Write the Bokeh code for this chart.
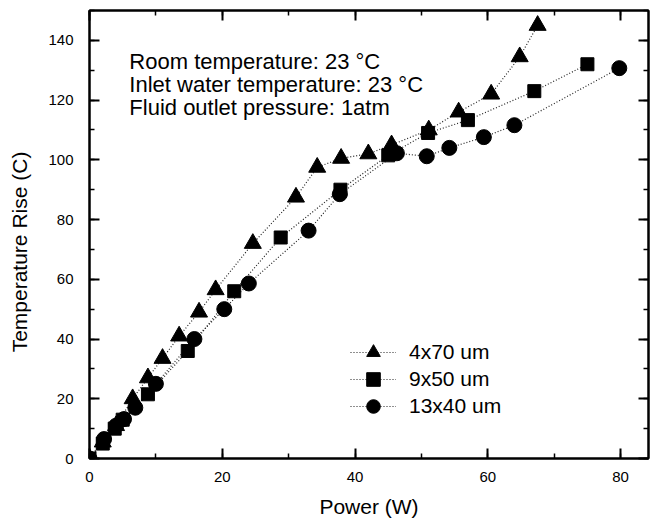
from bokeh.plotting import figure
from bokeh.models import (Range1d, SingleIntervalTicker, LinearAxis, Legend, LegendItem,
                          Label, CustomJSTickFormatter)
from bokeh.embed import file_html
from bokeh.resources import INLINE

# ---- data ----
tri_x = [0, 2, 4, 6.5, 8.8, 11, 13.5, 16.5, 19, 24.6, 31.1, 34.3, 37.9, 42, 45.5, 51.1, 55.6, 60.5, 64.8, 67.5]
tri_y = [0, 5.5, 11, 20, 27, 33.5, 41, 49, 56.5, 72, 87.5, 97.5, 100.5, 102, 105, 110, 116, 122, 134.5, 145]

sq_x = [0, 2, 3.8, 5, 8.8, 14.8, 21.8, 28.8, 37.8, 45, 51, 57, 67, 75]
sq_y = [0, 5, 10, 13, 21.5, 36, 56, 74, 90, 101.5, 109, 113.3, 123, 132]

ci_x = [0, 2.2, 4, 5.2, 6.9, 10, 15.8, 20.3, 24, 33, 37.7, 46.3, 50.8, 54.2, 59.4, 64, 79.8]
ci_y = [0, 6.5, 11, 13.2, 17, 25, 40, 50, 58.6, 76.3, 88.5, 102.2, 101.2, 104, 107.6, 111.6, 130.7]

series_names = ["4x70 um", "9x50 um", "13x40 um"]
notes = ["Room temperature: 23 \u00b0C", "Inlet water temperature: 23 \u00b0C", "Fluid outlet pressure: 1atm"]
x_label = "Power (W)"
y_label = "Temperature Rise (C)"

FONT = "Liberation Sans"

p = figure(width=650, height=520, output_backend="svg", toolbar_location=None,
           x_range=Range1d(0, 84.2), y_range=Range1d(0, 150),
           min_border_left=89, min_border_right=2, min_border_top=10, min_border_bottom=62)
p.xgrid.visible = False
p.ygrid.visible = False
p.outline_line_color = "black"
p.outline_line_width = 2
p.background_fill_color = "white"

p.xaxis.ticker = SingleIntervalTicker(interval=20, num_minor_ticks=2)
p.yaxis.ticker = SingleIntervalTicker(interval=20, num_minor_ticks=2)

def style_axis(ax):
    ax.axis_line_width = 2
    ax.axis_line_color = "black"
    ax.major_tick_in = 10
    ax.major_tick_out = 0
    ax.minor_tick_in = 5
    ax.minor_tick_out = 0
    ax.major_tick_line_width = 2
    ax.minor_tick_line_width = 1.5
    ax.major_label_text_font = FONT
    ax.major_label_text_font_size = "15px"
    ax.major_label_text_color = "black"
    ax.axis_label_text_font = FONT
    ax.axis_label_text_font_size = "21px"
    ax.axis_label_text_font_style = "normal"
    ax.axis_label_text_color = "black"

for ax in p.xaxis + p.yaxis:
    style_axis(ax)
p.xaxis.major_label_standoff = 13
p.yaxis.major_label_standoff = 16
p.xaxis.axis_label = x_label
# trailing no-break spaces shift the centred label down to where the reference has it
p.yaxis.axis_label = y_label + "\u00a0" * 6
p.xaxis.axis_label_standoff = 10
p.yaxis.axis_label_standoff = 14

blank = CustomJSTickFormatter(code="return ''")
top = LinearAxis(ticker=SingleIntervalTicker(interval=20, num_minor_ticks=2), formatter=blank)
right = LinearAxis(ticker=SingleIntervalTicker(interval=20, num_minor_ticks=2), formatter=blank)
for ax in (top, right):
    style_axis(ax)
    ax.major_label_standoff = 0
p.add_layout(top, "above")
p.add_layout(right, "right")

dash = "1 2"
lw = 1.2
lc = "#222222"
l1 = p.line(tri_x, tri_y, line_dash=dash, line_width=lw, line_color=lc)
l2 = p.line(sq_x, sq_y, line_dash=dash, line_width=lw, line_color=lc)
l3 = p.line(ci_x, ci_y, line_dash=dash, line_width=lw, line_color=lc)
s1 = p.scatter(tri_x, tri_y, marker="triangle", size=17, fill_color="black", line_color="black")
s2 = p.scatter(sq_x, sq_y, marker="square", size=13, fill_color="black", line_color="black")
s3 = p.scatter(ci_x, ci_y, marker="circle", size=15, fill_color="black", line_color="black")

pairs = [(l1, s1), (l2, s2), (l3, s3)]
legend_bottoms = [89, 62, 35]
for name, (ln, sc), yb in zip(series_names, pairs, legend_bottoms):
    lg = Legend(items=[LegendItem(label=name, renderers=[ln, sc])],
                location=(261, yb), glyph_width=46, glyph_height=34,
                label_standoff=13, padding=0, margin=0,
                border_line_color=None, background_fill_alpha=0,
                label_text_font=FONT, label_text_font_size="21px", label_text_color="black")
    p.add_layout(lg, "center")

note_y = [133, 125.3, 117.6]
for t, yy in zip(notes, note_y):
    p.add_layout(Label(x=6, y=yy, text=t, text_font=FONT, text_font_size="22px",
                       text_color="black", text_baseline="alphabetic"))

open("out.html", "w").write(file_html(p, INLINE))
